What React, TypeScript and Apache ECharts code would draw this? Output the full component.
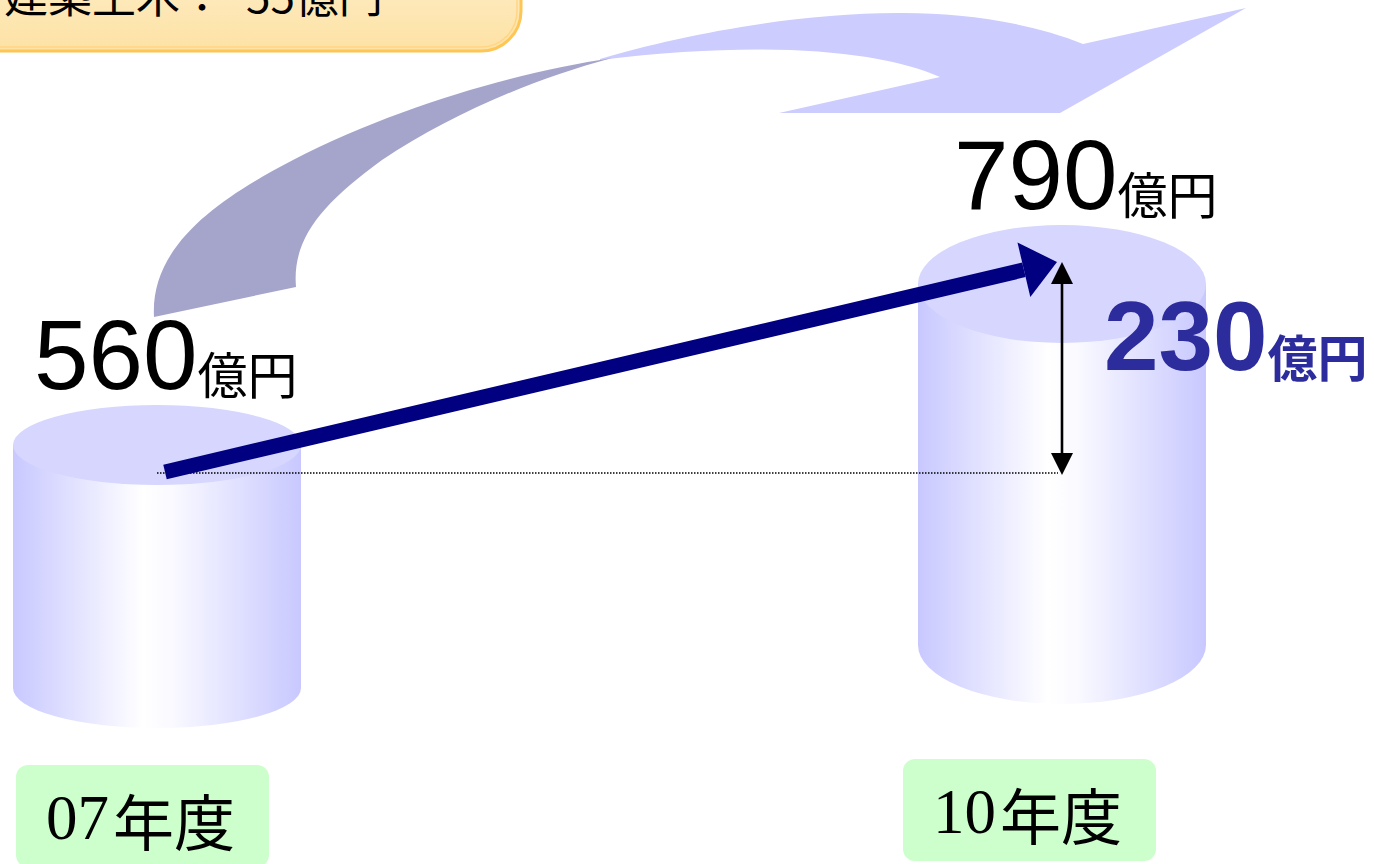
import React, { useEffect, useRef } from "react";
import * as echarts from "echarts";

// ---- data ----
const CATEGORIES = ["07年度", "10年度"];
const SALES = [560, 790];
const UNIT = "億円";
const NOTE_LABEL = "建築土木：";
const NOTE_VALUE = 55;

// ---- layout / style constants ----
const CYL_RX = 144;
const CYL_RY = [40, 59];
const CYL_BASE_Y = [688, 645];
const LABEL_DX = [-123, -108];
const BOX_DX = [-141, -159];
const BOX_Y = [765, 759];
const SANS = '"Liberation Sans", Arial, sans-serif';
const SERIF = '"Liberation Serif", "Times New Roman", serif';
const CJK = '"Noto Sans CJK JP", "Noto Sans CJK SC", sans-serif';

const LIGHT_PATH =
  "M600 59 C680 35 800 12 904 13 C960 13 1030 22 1083 44 L1246 8 L1060 113 L779 113 L940 77 C880 50 760 40 600 60 Z";
const DARK_PATH =
  "M154 317 L296 287 C292 240 320 205 382 160 C450 115 530 80 612 58 C520 72 400 105 293 160 C220 198 150 245 154 317 Z";

echarts.graphic.registerShape("bigarrowlight", echarts.graphic.extendPath(LIGHT_PATH, {}));
echarts.graphic.registerShape("bigarrowdark", echarts.graphic.extendPath(DARK_PATH, {}));

function renderCylinder(params: any, api: any) {
  const i = api.value(0);
  const v = api.value(1);
  const [cx, ty] = api.coord([i, v]);
  const rx = CYL_RX;
  const ry = CYL_RY[i];
  const by = CYL_BASE_Y[i];
  const grad = new echarts.graphic.LinearGradient(0, 0, 1, 0, [
    { offset: 0, color: "#C8C8FF" },
    { offset: 0.45, color: "#FFFFFF" },
    { offset: 0.55, color: "#FAFAFF" },
    { offset: 1, color: "#C8C8FF" },
  ]);
  const body = `M${cx - rx} ${ty} L${cx - rx} ${by} A${rx} ${ry} 0 0 0 ${cx + rx} ${by} L${cx + rx} ${ty} Z`;
  const top = `M${cx - rx} ${ty} A${rx} ${ry} 0 1 0 ${cx + rx} ${ty} A${rx} ${ry} 0 1 0 ${cx - rx} ${ty} Z`;
  const numText = String(v);
  const numX = cx + LABEL_DX[i];
  const numY = ty - ry - 50;
  const numW = numText.length * 0.556 * 98;
  const cat = CATEGORIES[i];
  const m = cat.match(/^(\d+)(.*)$/);
  const digits = m ? m[1] : "";
  const rest = m ? m[2] : cat;
  const bx = cx + BOX_DX[i];
  const bTop = BOX_Y[i];
  return {
    type: "group",
    children: [
      { type: "path", shape: { pathData: body }, style: { fill: grad } },
      { type: "path", shape: { pathData: top }, style: { fill: "#D6D6FE" } },
      {
        type: "text",
        x: numX,
        y: numY,
        style: { text: numText, fontFamily: SANS, fontSize: 98, fill: "#000", align: "left", verticalAlign: "middle" },
      },
      {
        type: "text",
        x: numX + numW,
        y: numY + 17,
        style: { text: UNIT, fontFamily: CJK, fontSize: 50, fill: "#000", align: "left", verticalAlign: "middle" },
      },
      { type: "rect", shape: { x: bx, y: bTop, width: 253, height: 102, r: 12 }, style: { fill: "#CCFFCC" } },
      {
        type: "text",
        x: bx + 30,
        y: bTop + 53,
        style: { text: digits, fontFamily: SERIF, fontSize: 63, fill: "#000", align: "left", verticalAlign: "middle" },
      },
      {
        type: "text",
        x: bx + 30 + digits.length * 0.5 * 63 + 4,
        y: bTop + 54,
        style: { text: rest, fontFamily: CJK, fontSize: 61, fill: "#000", align: "left", verticalAlign: "middle" },
      },
    ],
  };
}

function renderDiff(params: any, api: any) {
  const v0 = api.value(1);
  const v1 = api.value(3);
  const [x0, y0] = api.coord([api.value(0), v0]);
  const [x1, y1] = api.coord([api.value(2), v1]);
  const baseY = y0 + 28;
  const topY = y1 - 22;
  // navy arrow
  const S = [x0 + 8, baseY - 1];
  const T = [x1 - 5, topY];
  const dx = T[0] - S[0];
  const dy = T[1] - S[1];
  const len = Math.sqrt(dx * dx + dy * dy);
  const ux = dx / len;
  const uy = dy / len;
  const nx = -uy;
  const ny = ux;
  const headLen = 34;
  const B = [T[0] - ux * headLen, T[1] - uy * headLen];
  const hw = 7.5;
  const hh = 28;
  const diff = v1 - v0;
  const dText = String(diff);
  const dX = x1 + 42;
  const dY = (topY + baseY) / 2 - 31.5;
  const dW = dText.length * 0.556 * 98;
  return {
    type: "group",
    children: [
      {
        type: "line",
        shape: { x1: x0, y1: baseY, x2: x1 - 4, y2: baseY },
        style: { stroke: "#000", lineWidth: 1.3, lineDash: [1.5, 1.5] },
      },
      {
        type: "line",
        shape: { x1: x1, y1: baseY - 18, x2: x1, y2: topY + 18 },
        style: { stroke: "#000", lineWidth: 2.6 },
      },
      {
        type: "polygon",
        shape: { points: [[x1, topY], [x1 - 11, topY + 22], [x1 + 11, topY + 22]] },
        style: { fill: "#000" },
      },
      {
        type: "polygon",
        shape: { points: [[x1, baseY + 2], [x1 - 11, baseY - 20], [x1 + 11, baseY - 20]] },
        style: { fill: "#000" },
      },
      {
        type: "polygon",
        shape: {
          points: [
            [S[0] + nx * hw, S[1] + ny * hw],
            [B[0] + nx * hw, B[1] + ny * hw],
            [B[0] - nx * hw, B[1] - ny * hw],
            [S[0] - nx * hw, S[1] - ny * hw],
          ],
        },
        style: { fill: "#000080" },
      },
      {
        type: "polygon",
        shape: {
          points: [
            [T[0], T[1]],
            [B[0] + nx * hh, B[1] + ny * hh],
            [B[0] - nx * hh, B[1] - ny * hh],
          ],
        },
        style: { fill: "#000080" },
      },
      {
        type: "text",
        x: dX,
        y: dY,
        style: {
          text: dText,
          fontFamily: SANS,
          fontSize: 98,
          fontWeight: "bold",
          fill: "#2C2C9C",
          align: "left",
          verticalAlign: "middle",
        },
      },
      {
        type: "text",
        x: dX + dW,
        y: dY + 19,
        style: {
          text: UNIT,
          fontFamily: CJK,
          fontSize: 50,
          fontWeight: "bold",
          fill: "#2C2C9C",
          align: "left",
          verticalAlign: "middle",
        },
      },
    ],
  };
}

export default function App() {
  const ref = useRef<HTMLDivElement>(null);
  useEffect(() => {
    if (!ref.current) return;
    const chart = echarts.init(ref.current, null, { renderer: "svg" });
    const boxGrad = new echarts.graphic.LinearGradient(0, 0, 0, 1, [
      { offset: 0, color: "#FEF2DA" },
      { offset: 1, color: "#FDE2A4" },
    ]);
    chart.setOption({
      animation: false,
      backgroundColor: "#FFFFFF",
      grid: { left: 157, right: 312, top: 137, bottom: 27, outerBoundsMode: "none" },
      xAxis: { type: "category", data: CATEGORIES, boundaryGap: false, show: false },
      yAxis: { type: "value", min: 0, max: 1000, show: false },
      graphic: [
        { type: "bigarrowlight", x: 0, y: 0, z: 0, silent: true, style: { fill: "#CCCCFF" } },
        { type: "bigarrowdark", x: 0, y: 0, z: 0, silent: true, style: { fill: "#A5A5CC" } },
        {
          type: "rect",
          z: 1,
          silent: true,
          shape: { x: -40, y: -80, width: 561, height: 131, r: 40 },
          style: { fill: boxGrad, stroke: "#FFC654", lineWidth: 3 },
        },
        {
          type: "rect",
          z: 1,
          silent: true,
          shape: { x: -36, y: -76, width: 553, height: 123, r: 36 },
          style: { fill: "none", stroke: "#FFD585", lineWidth: 1.5 },
        },
        {
          type: "text",
          z: 2,
          silent: true,
          x: 4,
          y: -6,
          style: { text: NOTE_LABEL, fontFamily: CJK, fontSize: 44, fill: "#000", align: "left", verticalAlign: "middle" },
        },
        {
          type: "text",
          z: 2,
          silent: true,
          x: 246,
          y: -6,
          style: {
            text: String(NOTE_VALUE) + UNIT,
            fontFamily: CJK,
            fontSize: 44,
            fill: "#000",
            align: "left",
            verticalAlign: "middle",
          },
        },
      ],
      series: [
        {
          type: "custom",
          name: "cylinders",
          silent: true,
          clip: false,
          z: 2,
          renderItem: renderCylinder,
          encode: { x: 0, y: 1 },
          data: SALES.map((v, i) => [i, v]),
        },
        {
          type: "custom",
          name: "diff",
          silent: true,
          clip: false,
          z: 3,
          renderItem: renderDiff,
          encode: { x: [0, 2], y: [1, 3] },
          data: [[0, SALES[0], 1, SALES[1]]],
        },
      ],
    });
    return () => chart.dispose();
  }, []);
  return (
    <div
      ref={ref}
      style={{ position: "absolute", left: 0, top: 0, width: 1374, height: 864, background: "#fff" }}
    />
  );
}
